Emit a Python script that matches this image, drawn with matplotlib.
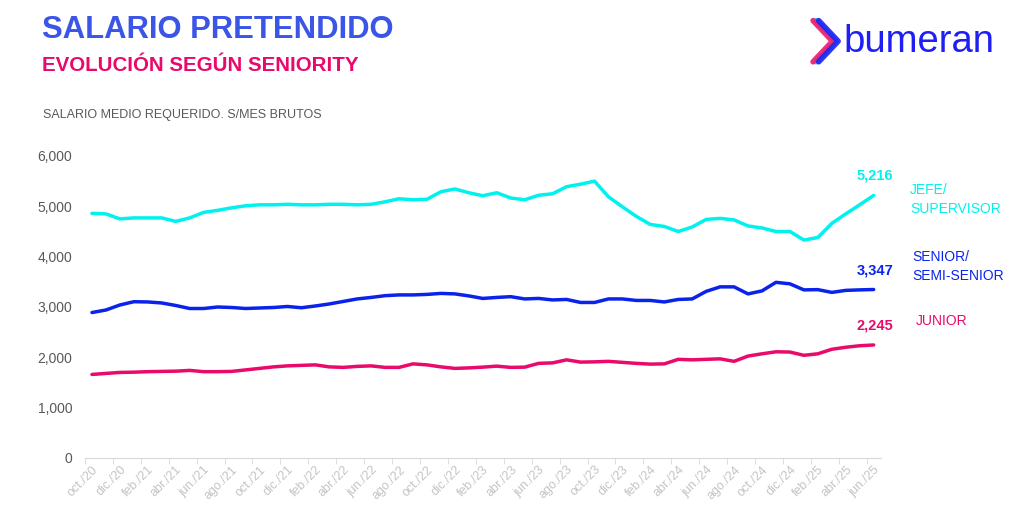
import matplotlib
matplotlib.use("Agg")
import matplotlib.pyplot as plt
import numpy as np

plt.rcParams['font.family'] = ['Liberation Sans', 'DejaVu Sans']

### data (oct/20 .. jun/25, monthly)
meses = ['ene.', 'feb.', 'mar.', 'abr.', 'may.', 'jun.',
         'jul.', 'ago.', 'sept.', 'oct.', 'nov.', 'dic.']
labels = []
for k in range(57):
    m = (9 + k) % 12
    y = 20 + (9 + k) // 12
    labels.append('%s/%d' % (meses[m], y))

jefe = [4860, 4850, 4750, 4770, 4770, 4770, 4700, 4770, 4880, 4920,
        4970, 5010, 5030, 5030, 5040, 5030, 5030, 5040, 5040, 5030,
        5040, 5090, 5150, 5130, 5140, 5290, 5345, 5270, 5210, 5270,
        5165, 5130, 5220, 5250, 5390, 5440, 5500, 5190, 4990, 4800,
        4640, 4600, 4500, 4590, 4740, 4760, 4730, 4610, 4570, 4500,
        4500, 4330, 4380, 4660, 4850, 5030, 5216]
senior = [2890, 2940, 3040, 3105, 3100, 3080, 3030, 2970, 2970, 3000,
          2990, 2970, 2980, 2990, 3010, 2985, 3020, 3060, 3110, 3160,
          3190, 3225, 3240, 3240, 3250, 3270, 3260, 3220, 3170, 3190,
          3205, 3160, 3170, 3140, 3150, 3090, 3090, 3160, 3160, 3130,
          3130, 3100, 3150, 3160, 3310, 3400, 3400, 3260, 3320, 3490,
          3460, 3340, 3345, 3290, 3330, 3340, 3347]
junior = [1660, 1680, 1700, 1705, 1715, 1720, 1725, 1740, 1715, 1715,
          1720, 1750, 1780, 1810, 1830, 1840, 1850, 1810, 1800, 1820,
          1830, 1800, 1800, 1870, 1850, 1810, 1780, 1790, 1805, 1825,
          1800, 1805, 1880, 1890, 1950, 1905, 1910, 1920, 1900, 1880,
          1865, 1870, 1960, 1950, 1960, 1970, 1920, 2025, 2070, 2110,
          2105, 2040, 2070, 2160, 2200, 2230, 2245]

series = [('JEFE/\nSUPERVISOR', jefe, '#00F2EE'),
          ('SENIOR/\nSEMI-SENIOR', senior, '#0A23EB'),
          ('JUNIOR', junior, '#EA0A6B')]
lab_y = [5130, 3800, 2720]
lab_x = [58.6, 58.8, 59.0]

fig = plt.figure(figsize=(10.24, 5.15), dpi=100)
ax = fig.add_axes([0.083, 0.1107, 0.777, 0.5864])

x = np.arange(len(labels))
for (name, vals, col), ly, lx in zip(series, lab_y, lab_x):
    ax.plot(x, vals, color=col, lw=2.5, solid_capstyle='round',
            solid_joinstyle='round')
    ax.annotate('{:,}'.format(vals[-1]), xy=(x[-1], vals[-1]),
                xytext=(1, 9), textcoords='offset points',
                ha='center', va='bottom', color=col,
                fontsize=10.5, fontweight='bold')
    ax.text(lx, ly, name, color=col, fontsize=10, va='center',
            ha='left', linespacing=1.45, clip_on=False)

ax.set_xlim(-0.5, 56.5)
ax.set_ylim(0, 6000)
ax.set_yticks(range(0, 6001, 1000))
ax.set_yticklabels(['{:,}'.format(v) for v in range(0, 6001, 1000)],
                   color='#595959', fontsize=10)
ax.tick_params(axis='y', length=0, pad=9)

ax.set_xticks(x[::2])
ax.set_xticklabels(labels[::2], rotation=45, ha='right',
                   rotation_mode='anchor', color='#C4C4C4', fontsize=9)
ax.set_xticks(np.arange(-0.5, 56.6, 2), minor=True)
ax.tick_params(axis='x', which='major', length=0, pad=4)
ax.tick_params(axis='x', which='minor', length=4, color='#D9D9D9')

for s in ['top', 'right', 'left']:
    ax.spines[s].set_visible(False)
ax.spines['bottom'].set_color('#D9D9D9')

### titles
fig.text(0.041, 0.942, 'SALARIO PRETENDIDO', color='#3B55E6',
         fontsize=22.3, fontweight='bold', va='center')
fig.text(0.041, 0.873, 'EVOLUCIÓN SEGÚN SENIORITY', color='#E8096B',
         fontsize=14.8, fontweight='bold', va='center')
fig.text(0.042, 0.777, 'SALARIO MEDIO REQUERIDO. S/MES BRUTOS',
         color='#595959', fontsize=9, va='center')

### logo
fig.text(0.824, 0.918, 'bumeran', color='#1F1FF5', fontsize=27.5,
         va='center', ha='left')
for dx, c in [(0.0, '#00E5E0'), (-0.003, '#F0186C'), (0.0025, '#1F1FF5')]:
    fig.add_artist(plt.Line2D([0.797 + dx, 0.816 + dx, 0.797 + dx],
                              [0.96, 0.92, 0.88], color=c, lw=4,
                              solid_capstyle='round',
                              solid_joinstyle='round', alpha=0.9))

fig.savefig('out.png', dpi=100)
